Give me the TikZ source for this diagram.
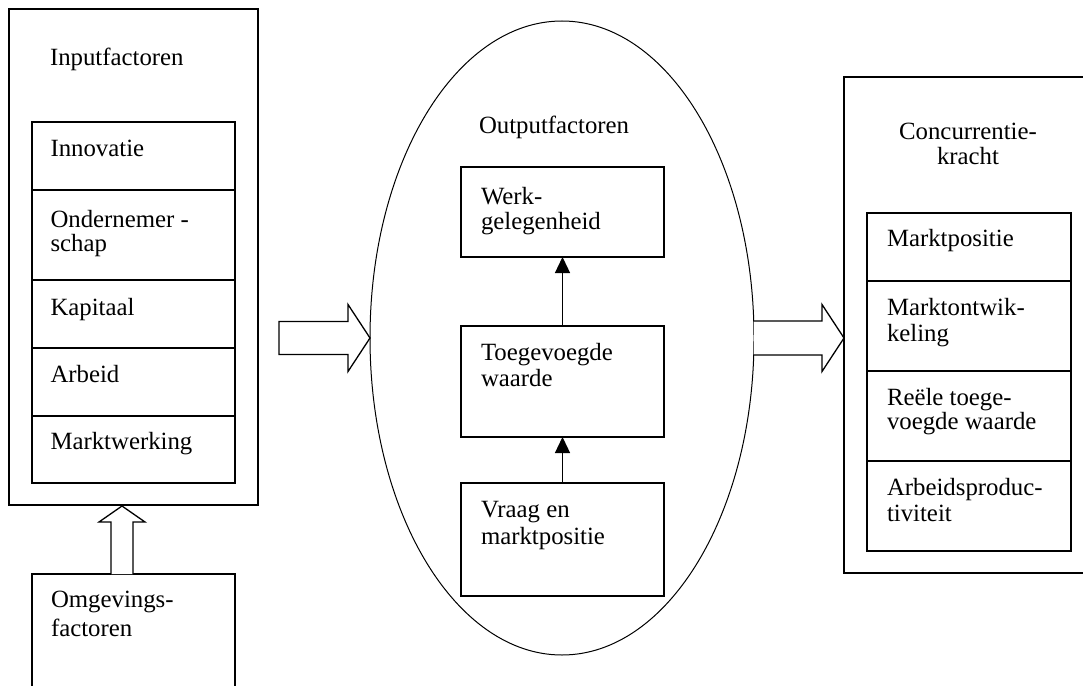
\documentclass[tikz,border=0pt]{standalone}
\usepackage{fontspec}
\setmainfont{Liberation Serif}
\usetikzlibrary{arrows.meta,calc,shapes.geometric}
\newcommand\mlines[2]{\begin{tabular}[t]{@{}#1@{}}#2\end{tabular}}
\begin{document}
\begin{tikzpicture}[x=1pt,y=-1pt,
  box/.style={draw,line width=1.3pt,rectangle,inner sep=0pt,outer sep=0pt,anchor=north west},
  txt/.style={anchor=base west,inner sep=0pt,outer sep=0pt,font=\fontsize{24.8}{25}\selectfont},
  blockarr/.style={draw,line width=1.3pt,fill=white,line join=miter},
  flow/.style={draw,line width=1.3pt,-{Triangle[length=16pt,width=15pt]}}]
\useasboundingbox (0,0) rectangle (1083,685);
\begin{scope}
\clip (0,0) rectangle (1083,685);
% ---------- left column ----------
\node[box,minimum width=249pt,minimum height=496pt] (inp) at (9,9) {};
\node[txt] (inpt) at (50,65.5) {Inputfactoren};
\node[box,minimum width=203pt,minimum height=68pt] (r1) at (32,122) {};
\node[box,minimum width=203pt,minimum height=90pt] (r2) at (32,190) {};
\node[box,minimum width=203pt,minimum height=68pt] (r3) at (32,280) {};
\node[box,minimum width=203pt,minimum height=68pt] (r4) at (32,348) {};
\node[box,minimum width=203pt,minimum height=67pt] (r5) at (32,416) {};
\node[txt] (r1t) at ($(r1.north west)+(18.5,34)$) {Innovatie};
\node[txt] (r2t) at ($(r2.north west)+(18.5,37)$) {\mlines{l}{Ondernemer -\\[-1pt]schap}};
\node[txt] (r3t) at ($(r3.north west)+(18.5,35)$) {Kapitaal};
\node[txt] (r4t) at ($(r4.north west)+(18.5,34)$) {Arbeid};
\node[txt] (r5t) at ($(r5.north west)+(18.5,33)$) {Marktwerking};
% environment box
\node[box,minimum width=203pt,minimum height=140pt] (omg) at (32,574) {};
\node[txt] (omgt) at ($(omg.north west)+(19,33)$) {\mlines{l}{Omgevings-\\[4pt]factoren}};
% up block arrow
\coordinate (ua) at ($(omg.north west)+(90,0)$);
\coordinate (ub) at ($(inp.south west)+(113,1)$);
\draw[blockarr] ($(ua)+(-11,0)$) -- ($(ub)+(-11,16)$) -- ($(ub)+(-23,16)$) -- (ub)
  -- ($(ub)+(23,16)$) -- ($(ub)+(11,16)$) -- ($(ua)+(11,0)$);
% ---------- middle ellipse ----------
\node[draw,ellipse,line width=1pt,minimum width=384pt,minimum height=634pt,inner sep=0pt,outer sep=0pt] (ell) at (562,338) {};
\node[txt] (outt) at (479,133) {Outputfactoren};
\node[box,minimum width=203pt,minimum height=90pt] (werk) at (461,167) {};
\node[box,minimum width=203pt,minimum height=111pt] (toeg) at (461,326) {};
\node[box,minimum width=203pt,minimum height=113pt] (vraag) at (461,483) {};
\node[txt] (werkt) at ($(werk.north west)+(20,37)$) {\mlines{l}{Werk-\\gelegenheid}};
\node[txt] (toegt) at ($(toeg.north west)+(20,34)$) {\mlines{l}{Toegevoegde\\[1pt]waarde}};
\node[txt] (vraagt) at ($(vraag.north west)+(20,34)$) {\mlines{l}{Vraag en\\[2pt]marktpositie}};
\draw[flow] (toeg.north) -- (werk.south);
\draw[flow] (vraag.north) -- (toeg.south);
% ---------- right column ----------
\node[box,minimum width=250pt,minimum height=496pt] (cc) at (844,77) {};
\node[anchor=base,inner sep=0pt,outer sep=0pt,font=\fontsize{24.8}{25}\selectfont] (cct) at (968,139) {\mlines{c}{Concurrentie-\\kracht}};
\node[box,minimum width=204pt,minimum height=68pt] (c1) at (867,213) {};
\node[box,minimum width=204pt,minimum height=90pt] (c2) at (867,281) {};
\node[box,minimum width=204pt,minimum height=90pt] (c3) at (867,371) {};
\node[box,minimum width=204pt,minimum height=90pt] (c4) at (867,461) {};
\node[txt] (c1t) at ($(c1.north west)+(20,33)$) {Marktpositie};
\node[txt] (c2t) at ($(c2.north west)+(20,34)$) {\mlines{l}{Marktontwik-\\[1pt]keling}};
\node[txt] (c3t) at ($(c3.north west)+(20,34)$) {\mlines{l}{Reële toege-\\[-1pt]voegde waarde}};
\node[txt] (c4t) at ($(c4.north west)+(20,34)$) {\mlines{l}{Arbeidsproduc-\\[1pt]tiviteit}};
% ---------- horizontal block arrows ----------
\coordinate (la) at (279,338);
\draw[blockarr] ($(la)+(0,-16.5)$) -- ($(ell.west)+(-22,-16.5)$) -- ($(ell.west)+(-22,-33.5)$) -- (ell.west)
  -- ($(ell.west)+(-22,33.5)$) -- ($(ell.west)+(-22,16.5)$) -- ($(la)+(0,16.5)$) -- cycle;
\coordinate (rb) at (cc.west |- ell.east);
\draw[blockarr] ($(ell.east)+(0,-17)$) -- ($(rb)+(-22,-17)$) -- ($(rb)+(-22,-33.5)$) -- (rb)
  -- ($(rb)+(-22,33.5)$) -- ($(rb)+(-22,17)$) -- ($(ell.east)+(0,17)$);
\end{scope}
\end{tikzpicture}
\end{document}
